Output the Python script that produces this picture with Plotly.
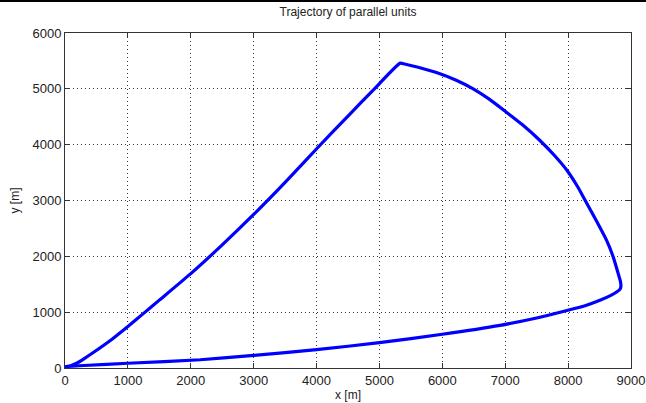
import plotly.graph_objects as go

# Trajectory points (x [m], y [m])
x_up = [0, 100, 200, 300, 450, 742, 1000, 1245, 1500, 2000, 2500, 3000, 3500,
        4054, 4500, 4920, 5330]
y_up = [20, 45, 95, 165, 278, 512, 745, 974, 1216, 1690, 2205, 2750, 3325,
        3990, 4512, 5000, 5460]

x_arc = [5400, 5600, 5962, 6230, 6491, 6740, 6984, 7270, 7552, 7780, 7992,
         8150, 8294, 8460, 8612, 8717, 8797, 8830]
y_arc = [5445, 5390, 5270, 5150, 5001, 4820, 4612, 4360, 4075, 3810, 3525,
         3250, 2955, 2615, 2286, 1990, 1690, 1560]

x_low = [8840, 8830, 8771, 8680, 8506, 8280, 7997, 7500, 6916, 6000, 5000, 4000,
         3000, 2150, 1000, 300, 0]
y_low = [1470, 1420, 1360, 1300, 1213, 1120, 1034, 895, 764, 604, 454, 328,
         225, 148, 85, 45, 25]

x_ticks = [0, 1000, 2000, 3000, 4000, 5000, 6000, 7000, 8000, 9000]
y_ticks = [0, 1000, 2000, 3000, 4000, 5000, 6000]

xs = x_up + x_arc + x_low
ys = y_up + y_arc + y_low

fig = go.Figure()
fig.add_trace(go.Scatter(x=xs, y=ys, mode="lines",
                         line=dict(color="#0000ff", width=3.2, shape="spline", smoothing=0.5),
                         showlegend=False, hoverinfo="skip"))

tick_font = dict(family="Liberation Sans, Arial, sans-serif", size=13, color="#222")
lab_font = dict(family="Liberation Sans, Arial, sans-serif", size=12, color="#222")
axis_common = dict(showgrid=True, gridcolor="#333", griddash="1px,3px", gridwidth=1,
                   showline=True, linecolor="#333", linewidth=1, mirror="ticks",
                   ticks="inside", ticklen=5, tickcolor="#333", zeroline=False,
                   tickfont=tick_font, automargin=False)

fig.update_layout(
    width=646, height=403,
    margin=dict(l=65, r=15, t=33, b=35),
    paper_bgcolor="white", plot_bgcolor="white",
    title=dict(text="Trajectory of parallel units", x=0.5, xref="paper", y=1 - 12/403,
               yanchor="middle", font=lab_font),
    xaxis=dict(range=[0, 9000], tickvals=x_ticks, ticktext=[str(v) for v in x_ticks],
               title=dict(text="x [m]", font=lab_font, standoff=4), **axis_common),
    yaxis=dict(range=[0, 6000], tickvals=y_ticks, ticktext=[str(v) for v in y_ticks],
               title=dict(text="y [m]", font=lab_font, standoff=10), **axis_common),
    font=lab_font,
)

# thin black rule at the very top of the figure
fig.add_shape(type="line", xref="paper", yref="paper", x0=-65/566, x1=1 + 15/566,
              y0=1 + 32/335, y1=1 + 32/335, line=dict(color="black", width=2))

fig.write_html("out.html", config={"displayModeBar": False},
               post_script="document.body.style.margin='0';document.body.style.overflow='hidden';")
